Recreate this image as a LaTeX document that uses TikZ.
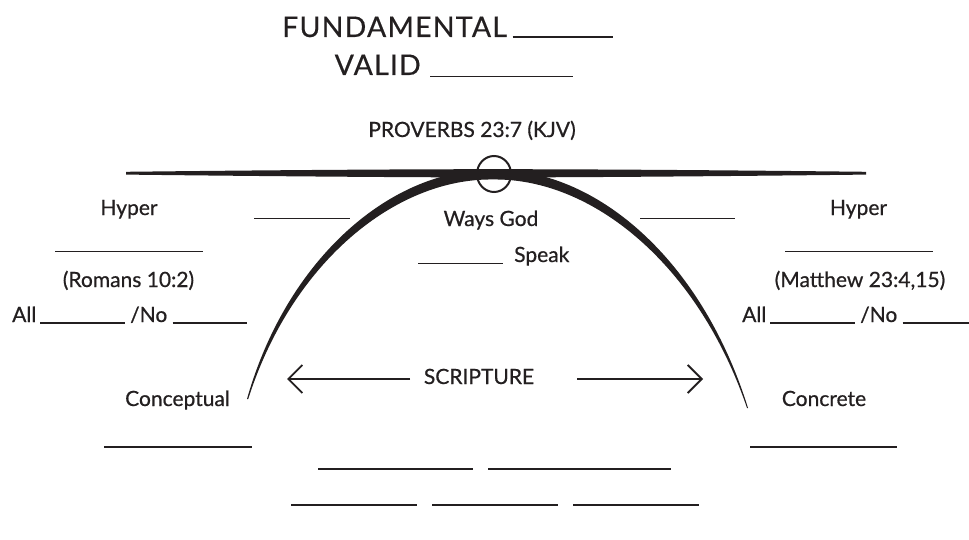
\documentclass[tikz,border=0pt]{standalone}
\usepackage{fontspec}
\setmainfont{Lato}[FakeBold=0.6]
\newfontfamily\titlefont{Lato}[LetterSpace=4.2,FakeBold=0.4]
\usetikzlibrary{arrows.meta}
\definecolor{ink}{RGB}{35,31,32}
\begin{document}
\begin{tikzpicture}[x=1pt,y=-1pt,
  lbl/.style={font=\fontsize{21}{25}\selectfont, inner sep=0pt, text=ink},
  ttl/.style={font=\titlefont\fontsize{28.5}{32}\selectfont, inner sep=0pt, text=ink},
  blank/.style={line width=1.8pt, draw=ink},
  arr/.style={line width=1.8pt, draw=ink, -{Straight Barb[length=14pt,width=28pt,line width=1.8pt]}}
]
\useasboundingbox (0,0) rectangle (969,540);
\fill[white] (0,0) rectangle (969,540);

% title
\node[ttl, anchor=base west] (fund) at (282,37) {FUNDAMENTAL};
\node[ttl, anchor=base east] (valid) at (421,75) {VALID};
\draw[blank] (512.7,37.3) -- (613,37.3);
\draw[blank] (430,76.5) -- (573,76.5);

\node[lbl, anchor=base] (prov) at (472,137) {PROVERBS 23:7 (KJV)};

% horizontal bar (lens)
\fill[ink] (126,171.8) .. controls (300,169.8) and (420,169.2) .. (493,169.2)
  .. controls (566,169.2) and (690,169.8) .. (866,171.8)
  -- (866,174.6) .. controls (690,176.6) and (566,177.4) .. (493,177.4)
  .. controls (420,177.4) and (300,176.6) .. (126,174.6) -- cycle;

% arch
\fill[ink] (247,399) .. controls (287,258) and (392,168) .. (493,170)
  .. controls (596,168) and (702,260) .. (748,408)
  -- (747,408) .. controls (698,264) and (592,178) .. (493,179.5)
  .. controls (396,178) and (292,262) .. (248.2,399) -- cycle;

% circle
\draw[ink, line width=2pt] (494,174) ellipse (17pt and 18pt);

% left column
\node[lbl, anchor=base] (hypl) at (129,215) {Hyper};
\draw[blank] (55,251.5) -- (203,251.5);
\node[lbl, anchor=base] (rom) at (128.5,287) {(Romans 10:2)};
\node[lbl, anchor=base west] (alll) at (12,322) {All};
\draw[blank] (40,323.3) -- (125,323.3);
\node[lbl, anchor=base west] (nol) at (130,322) {/No};
\draw[blank] (172.7,323.3) -- (246.7,323.3);
\draw[blank] (254,218.5) -- (350,218.5);
\node[lbl, anchor=base] (conc) at (177.5,406) {Conceptual};
\draw[blank] (104,447) -- (251.5,447);

% right column
\node[lbl, anchor=base] (hypr) at (858.5,215) {Hyper};
\draw[blank] (785,251.5) -- (933,251.5);
\node[lbl, anchor=base] (mat) at (860,287) {(Matthew 23:4,15)};
\node[lbl, anchor=base west] (allr) at (742,322) {All};
\draw[blank] (770,323.3) -- (855,323.3);
\node[lbl, anchor=base west] (nor) at (860,322) {/No};
\draw[blank] (902.7,323.3) -- (969,323.3);
\draw[blank] (640,218.5) -- (735,218.5);
\node[lbl, anchor=base] (concr) at (824,406) {Concrete};
\draw[blank] (750,447) -- (897,447);

% center
\node[lbl, anchor=base] (ways) at (491,226) {Ways God};
\node[lbl, anchor=base west] (speak) at (514,262) {Speak};
\draw[blank] (418,263.5) -- (502.5,263.5);

\node[lbl, anchor=base] (scr) at (479,384) {SCRIPTURE};
\coordinate (lt) at (287,379);
\coordinate (rt) at (703,379);
\draw[arr] (410,379) -- (lt);
\draw[arr] (577,379) -- (rt);

% bottom blanks
\draw[blank] (318,469) -- (472.5,469);
\draw[blank] (488,469) -- (671,469);
\draw[blank] (291,505) -- (416.5,505);
\draw[blank] (432,505) -- (558,505);
\draw[blank] (573,505) -- (699,505);
\end{tikzpicture}
\end{document}
